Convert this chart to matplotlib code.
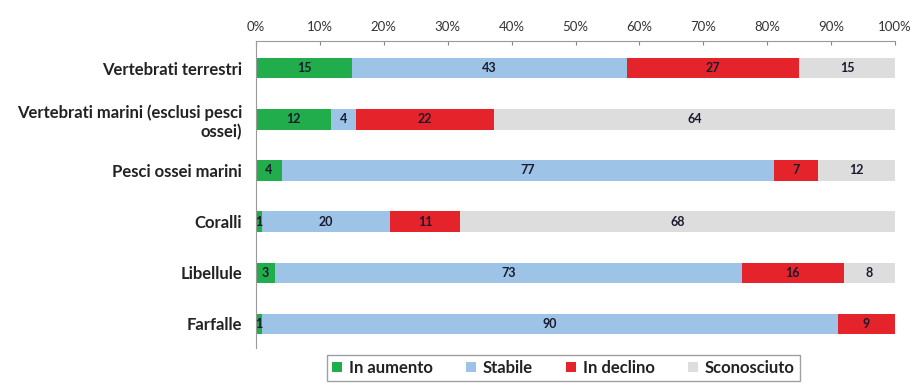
import matplotlib.pyplot as plt
import numpy as np

categories = ['Vertebrati terrestri', 'Vertebrati marini (esclusi pesci\nossei)',
              'Pesci ossei marini', 'Coralli', 'Libellule', 'Farfalle']
series = ['In aumento', 'Stabile', 'In declino', 'Sconosciuto']
in_aumento = [15, 12, 4, 1, 3, 1]
stabile = [43, 4, 77, 20, 73, 90]
in_declino = [27, 22, 7, 11, 16, 9]
sconosciuto = [15, 64, 12, 68, 8, 0]
colors = ['#21ad4b', '#9dc3e6', '#e5232a', '#dddddd']
ticks = [0, 10, 20, 30, 40, 50, 60, 70, 80, 90, 100]

plt.rcParams['font.family'] = ['Lato', 'DejaVu Sans']

data = np.array([in_aumento, stabile, in_declino, sconosciuto], dtype=float)
perc = data / data.sum(axis=0) * 100

fig = plt.figure(figsize=(9.13, 3.83), dpi=100)
ax = fig.add_axes([0.2804, 0.0914, 0.6999, 0.8016])

y = np.arange(len(categories))
left = np.zeros(len(categories))
for i, name in enumerate(series):
    bars = ax.barh(y, perc[i], left=left, height=0.4, color=colors[i], label=name)
    for j, b in enumerate(bars):
        if data[i, j] > 0:
            ax.text(left[j] + perc[i, j] / 2, y[j], '%d' % data[i, j],
                    ha='center', va='center', fontsize=9, fontweight='bold',
                    color='#1a1a2e')
    left += perc[i]

ax.set_xlim(0, 100)
ax.set_ylim(5.47, -0.53)
ax.set_xticks(ticks)
ax.set_xticklabels(['%d%%' % t for t in ticks], fontsize=9.5, color='#333333')
ax.xaxis.tick_top()
ax.tick_params(axis='x', direction='in', length=3, color='#888888', pad=6)
ax.set_yticks(y)
ax.set_yticklabels(categories, fontsize=12, fontweight='bold', color='#222222')
ax.tick_params(axis='y', length=0, pad=10)
for s in ['right', 'bottom']:
    ax.spines[s].set_visible(False)
ax.spines['top'].set_color('#999999')
ax.spines['left'].set_color('#999999')

leg = fig.legend(loc='upper center', bbox_to_anchor=(0.617, 0.073), ncol=4,
                 frameon=True, fancybox=False, edgecolor='#888888',
                 fontsize=12, handlelength=0.6, handleheight=0.6,
                 columnspacing=2.0, handletextpad=0.4, borderpad=0.3,
                 borderaxespad=0)
for t in leg.get_texts():
    t.set_fontweight('bold')
    t.set_color('#222222')

fig.savefig('out.png', dpi=100)
